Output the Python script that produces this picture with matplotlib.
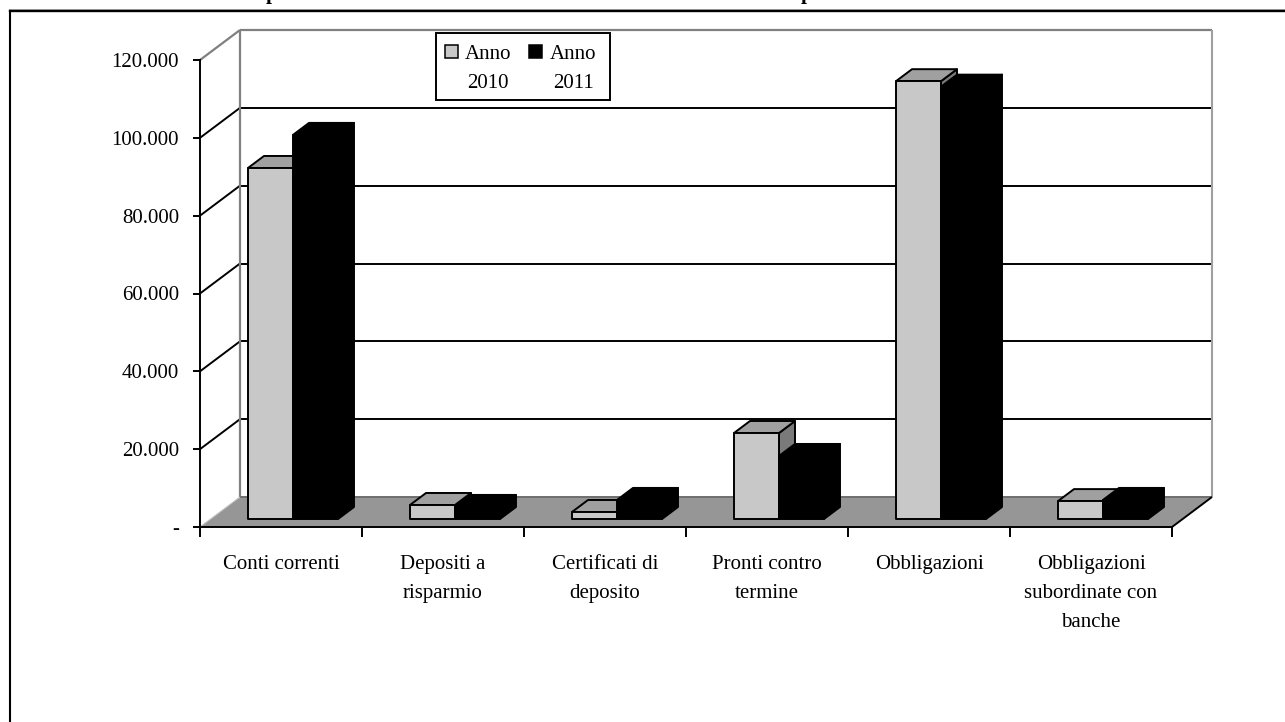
import numpy as np
import matplotlib
matplotlib.use('Agg')
import matplotlib.pyplot as plt
from matplotlib.lines import Line2D
from matplotlib.patches import Polygon, Rectangle

categorie = ['Conti correnti', 'Depositi a\nrisparmio', 'Certificati di\ndeposito',
             'Pronti contro\ntermine', 'Obbligazioni', 'Obbligazioni\nsubordinate con\nbanche']
anno_2010 = [90200, 3600, 1800, 22100, 112500, 4600]
anno_2011 = [98700, 3100, 4900, 16200, 111100, 4900]
serie = ['Anno\n2010', 'Anno\n2011']
tick_y = [0, 20000, 40000, 60000, 80000, 100000, 120000]
tick_y_lab = ['-', '20.000', '40.000', '60.000', '80.000', '100.000', '120.000']

W, H = 1285, 722
plt.rcParams['font.family'] = ['Liberation Serif', 'DejaVu Serif']
GRIGIO = '#c8c8c8'
GRIGIO_TOP = '#a0a0a0'
GRIGIO_SIDE = '#7a7a7a'
PAVIMENTO = '#969696'
LW = 1.4

fig = plt.figure(figsize=(W / 100, H / 100), dpi=100, facecolor='white')
ax = fig.add_axes([200 / W, 1 - 527 / H, 972 / W, 467 / H])
ax.set_xlim(0, 6)
ax.set_ylim(0, 120000)
ax.patch.set_visible(False)

# conversione da pixel a unita' dei dati, serve per la finta prospettiva
ux = 6 / 972
uy = 120000 / 467
prof_x, prof_y = 40 * ux, 30 * uy      # profondita' del pavimento
bar_dx, bar_dy = 16 * ux, 12 * uy      # profondita' delle barre
larg = 45 * ux
start_x, start_y = 48 * ux, 8 * uy


def poly(punti, fc, ec='black', z=3, lw=LW):
    p = Polygon(punti, closed=True, facecolor=fc, edgecolor=ec, lw=lw, zorder=z,
                joinstyle='round', clip_on=False)
    ax.add_patch(p)


def linea(xs, ys, col='black', lw=LW, z=2):
    ax.plot(xs, ys, color=col, lw=lw, zorder=z, clip_on=False, solid_capstyle='butt')


def barra(x0, val, front, top, side, z):
    y0 = start_y
    y1 = y0 + val
    x1 = x0 + larg
    poly([(x1, y0), (x1 + bar_dx, y0 + bar_dy), (x1 + bar_dx, y1 + bar_dy), (x1, y1)], side, z=z)
    poly([(x0, y1), (x1, y1), (x1 + bar_dx, y1 + bar_dy), (x0 + bar_dx, y1 + bar_dy)], top, z=z)
    poly([(x0, y0), (x1, y0), (x1, y1), (x0, y1)], front, z=z)


# griglia: diagonale sul fianco e linea orizzontale sulla parete
for v in tick_y[1:-1]:
    linea([0, prof_x], [v, v + prof_y])
    linea([prof_x, 6 + prof_x], [v + prof_y, v + prof_y])

# parete di fondo
top = 120000
linea([0, prof_x], [top, top + prof_y], '#808080', 1.6)
linea([prof_x, prof_x], [prof_y, top + prof_y], '#808080', 1.6)
linea([prof_x, 6 + prof_x], [top + prof_y, top + prof_y], '#808080', 1.6)
linea([6 + prof_x, 6 + prof_x], [prof_y, top + prof_y], '#a0a0a0', 1.5)

# pavimento
poly([(0, 0), (6, 0), (6 + prof_x, prof_y), (prof_x, prof_y)], PAVIMENTO, ec='none', z=2.5)
linea([prof_x, 6 + prof_x], [prof_y, prof_y], '#6e6e6e', 1.4, 2.6)
linea([0, prof_x], [0, prof_y], '#c0c0c0', 0.8, 2.6)
linea([6, 6 + prof_x], [0, prof_y], 'black', LW, 2.6)

# barre: prima il 2010, poi il 2011 che gli sta davanti
for i in range(len(categorie)):
    x0 = i + start_x
    barra(x0, anno_2010[i], GRIGIO, GRIGIO_TOP, GRIGIO_SIDE, 3 + i * 0.1)
    barra(x0 + larg, anno_2011[i], 'black', 'black', 'black', 3.05 + i * 0.1)

# assi
for s in ['top', 'right']:
    ax.spines[s].set_visible(False)
for s in ['left', 'bottom']:
    ax.spines[s].set_linewidth(LW)
    ax.spines[s].set_zorder(5)
ax.set_yticks(tick_y, tick_y_lab, fontsize=15)
ax.set_xticks(np.arange(0, 7))
ax.set_xticklabels([])
ax.set_xticks(np.arange(0.5, 6), categorie, minor=True, fontsize=15, linespacing=1.72)
ax.tick_params(axis='y', length=5, width=LW, pad=10)
ax.tick_params(axis='x', which='major', length=7, width=LW)
ax.tick_params(axis='x', which='minor', length=0, pad=20)
for lab in ax.get_xticklabels(minor=True):
    lab.set_verticalalignment('top')
    lab.set_horizontalalignment('center')

# legenda
fig.add_artist(Rectangle((436 / W, 1 - 100 / H), 174 / W, 67 / H, transform=fig.transFigure,
                         facecolor='white', edgecolor='black', lw=LW, zorder=10))
for sw_x, tx, col, lab in [(445, 488, GRIGIO, serie[0]), (529, 573, 'black', serie[1])]:
    fig.add_artist(Rectangle((sw_x / W, 1 - 58 / H), 13 / W, 13 / H, transform=fig.transFigure,
                             facecolor=col, edgecolor='black', lw=1.1, zorder=11))
    fig.text(tx / W, 1 - 69 / H, lab, ha='center', va='center', fontsize=15, linespacing=1.68, zorder=11)

# cornice del riquadro, tagliata in alto e a destra
fig.add_artist(Line2D([9 / W, 1], [1 - 9 / H, 1 - 9 / H], color='#b0b0b0', lw=0.7))
fig.add_artist(Line2D([10 / W, 1], [1 - 10.5 / H, 1 - 10.5 / H], color='black', lw=1.7))
fig.add_artist(Line2D([10 / W, 10 / W], [0, 1 - 10.5 / H], color='black', lw=1.5))

# resti del titolo tagliato sul bordo superiore
for tx in [272, 807]:
    fig.text(tx / W, 1 + 1.5 / H, 'p', ha='center', va='baseline', fontsize=15, fontweight='bold')

fig.savefig('out.png', dpi=100)
